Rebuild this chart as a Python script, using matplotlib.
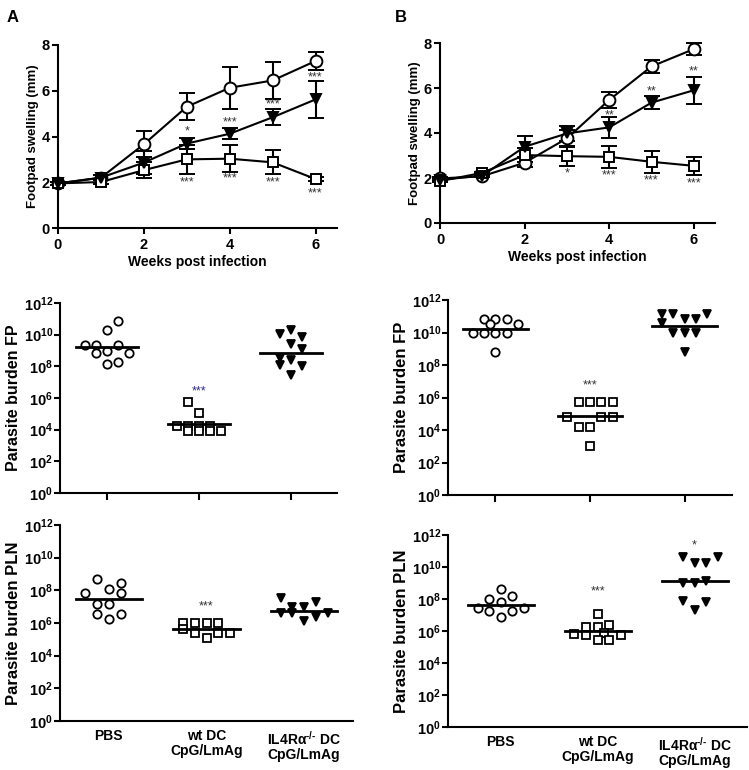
import numpy as np
import matplotlib
matplotlib.use("Agg")
import matplotlib.pyplot as plt
from matplotlib.ticker import FixedLocator, NullLocator

plt.rcParams['font.family'] = ['Liberation Sans', 'DejaVu Sans']
plt.rcParams['font.weight'] = 'bold'
plt.rcParams['axes.labelweight'] = 'bold'
plt.rcParams['mathtext.fontset'] = 'custom'
plt.rcParams['mathtext.rm'] = 'Liberation Sans:bold'
plt.rcParams['mathtext.it'] = 'Liberation Sans:italic:bold'
plt.rcParams['mathtext.bf'] = 'Liberation Sans:bold'
plt.rcParams['mathtext.default'] = 'bf'

# ---------------- data: footpad swelling ----------------
weeks = [0, 1, 2, 3, 4, 5, 6]

A_pbs_mean = [1.95, 2.20, 3.66, 5.30, 6.13, 6.45, 7.30]
A_pbs_err = [0.05, 0.10, 0.57, 0.60, 0.92, 0.80, 0.40]
A_il4_mean = [1.95, 2.20, 2.86, 3.69, 4.12, 4.84, 5.62]
A_il4_err = [0.05, 0.10, 0.50, 0.25, 0.25, 0.35, 0.80]
A_wt_mean = [1.95, 2.01, 2.53, 3.00, 3.03, 2.87, 2.14]
A_wt_err = [0.05, 0.08, 0.35, 0.65, 0.60, 0.53, 0.10]

B_pbs_mean = [1.98, 2.08, 2.68, 3.76, 5.47, 6.96, 7.73]
B_pbs_err = [0.05, 0.05, 0.20, 0.37, 0.37, 0.30, 0.26]
B_il4_mean = [1.92, 2.10, 3.39, 3.98, 4.25, 5.35, 5.90]
B_il4_err = [0.05, 0.05, 0.47, 0.35, 0.45, 0.30, 0.60]
B_wt_mean = [1.86, 2.23, 3.02, 2.97, 2.94, 2.72, 2.54]
B_wt_err = [0.05, 0.05, 0.30, 0.45, 0.50, 0.48, 0.40]

A_sig_week = [3, 3, 4, 4, 5, 5, 6, 6]
A_sig_y = [4.20, 1.97, 4.60, 2.15, 5.40, 2.00, 6.58, 1.53]
A_sig_text = ['*', '***', '***', '***', '***', '***', '***', '***']

B_sig_week = [3, 4, 4, 5, 5, 6, 6]
B_sig_y = [2.20, 4.80, 2.13, 5.84, 1.90, 6.74, 1.78]
B_sig_text = ['*', '**', '***', '**', '***', '**', '***']

# ---------------- data: parasite burden (log10) ----------------
groups = ['PBS', 'wt DC\nCpG/LmAg', 'IL4R\u03b1$^{\\text{-/-}}$ DC\nCpG/LmAg']

A_FP_pbs = [10.84, 10.31, 9.36, 9.36, 9.36, 8.83, 8.94, 8.83, 8.16, 8.30]
A_FP_wt = [5.77, 5.07, 4.23, 4.23, 4.23, 4.23, 3.92, 3.92, 3.92, 3.92]
A_FP_il4 = [10.04, 10.31, 9.85, 9.40, 9.08, 8.51, 8.41, 8.09, 7.99, 7.46]
A_FP_median = [9.25, 4.34, 8.87]

B_FP_pbs = [10.83, 10.83, 10.83, 10.50, 10.50, 9.95, 9.95, 9.95, 9.95, 8.78]
B_FP_wt = [5.74, 5.74, 5.74, 5.74, 4.82, 4.82, 4.82, 4.20, 4.20, 3.02]
B_FP_il4 = [11.14, 11.14, 11.14, 10.83, 10.83, 10.56, 9.95, 9.95, 9.95, 8.82]
B_FP_median = [10.19, 4.86, 10.42]

A_PLN_pbs = [8.67, 8.43, 7.82, 8.06, 7.82, 7.14, 7.14, 6.55, 6.55, 6.24]
A_PLN_wt = [6.02, 6.02, 6.02, 6.02, 5.61, 5.37, 5.37, 5.37, 5.06]
A_PLN_il4 = [7.51, 6.96, 6.96, 7.31, 6.63, 6.59, 6.39, 6.63, 6.10]
A_PLN_median = [7.47, 5.63, 6.76]

B_PLN_pbs = [8.61, 7.98, 8.19, 7.84, 7.42, 7.42, 7.28, 7.28, 6.90]
B_PLN_wt = [7.04, 6.27, 6.23, 6.375, 5.81, 5.75, 5.86, 5.75, 5.44, 5.44]
B_PLN_il4 = [10.61, 10.27, 10.27, 10.61, 8.98, 8.98, 9.125, 7.875, 7.31, 7.79]
B_PLN_median = [7.63, 6.00, 9.14]

# significance annotations for burden panels: (group index, log10 y, text)
A_FP_sig = [(1, 6.40, '***')]
B_FP_sig = [(1, 6.77, '***')]
A_PLN_sig = [(1, 7.04, '***')]
B_PLN_sig = [(1, 8.50, '***'), (2, 11.37, '*')]

# layout: horizontal slot of each point (scatter arrangement)
A_FP_slots = [[1, 0, -2, -1, 1, -1, 0, 2, 0, 1],
              [-1, 0, -2, -1, 0, 1, -1, 0, 1, 2],
              [-1, 0, 1, 0, 1, -1, 0, -1, 1, 0]]
B_FP_slots = [[-1, 0, 1, -0.5, 2, -2, -1, 0, 1, 0],
              [-1, 0, 1, 2, -2, 1, 2, -1, 0, 0],
              [-2, -1, 2, 0, 1, -2, -1, 0, 1, 0]]
A_PLN_slots = [[-1, 1, -2, 0, 1, -1, 0, -1, 1, 0],
               [-2, -1, 0, 1, -2, -1, 1, 2, 0],
               [-2, -1, 0, 1, -2, -1, 1, 2, 0]]
B_PLN_slots = [[0, -1, 1, 0, -2, 2, -1, 1, 0],
               [0, -1, 0, 1, -2, -1, 0.5, 2, 0, 1],
               [-1, 0, 1, 2, -1, 0, 1, -1, 0, 1]]

W, H = 749, 770
fig = plt.figure(figsize=(W / 100, H / 100), dpi=100)


def rect(x0, y0, x1, y1):
    return [x0 / W, 1 - y1 / H, (x1 - x0) / W, (y1 - y0) / H]


LW = 1.5
STAR_COLOR = '#333333'
STAR_SIZE = 9


def style_axes(ax):
    for s in ['top', 'right']:
        ax.spines[s].set_visible(False)
    for s in ['left', 'bottom']:
        ax.spines[s].set_linewidth(LW)
    ax.tick_params(width=LW, length=4)


def swelling(ax, pbs_m, pbs_e, il4_m, il4_e, wt_m, wt_e, sw, sy, st):
    style_axes(ax)
    kw = dict(color='black', lw=LW, elinewidth=LW, capsize=5.5, capthick=LW,
              markeredgecolor='black', markeredgewidth=1.4, clip_on=False, zorder=3)
    ax.errorbar(weeks, pbs_m, yerr=pbs_e, marker='o', markersize=8.5,
                markerfacecolor='white', **kw)
    ax.errorbar(weeks, wt_m, yerr=wt_e, marker='s', markersize=7.5,
                markerfacecolor='white', **kw)
    ax.errorbar(weeks, il4_m, yerr=il4_e, marker='v', markersize=7,
                markerfacecolor='black', **kw)
    for w, y, t in zip(sw, sy, st):
        ax.text(w, y, t, ha='center', va='center', fontsize=STAR_SIZE,
                fontweight='normal', color=STAR_COLOR, zorder=5)
    ax.set_xlim(0, 6.5)
    ax.set_ylim(0, 8)
    ax.set_xticks([0, 2, 4, 6])
    ax.set_xticklabels(['0', '2', '4', '6'], fontsize=10.5, fontweight='heavy')
    ax.set_yticks([0, 2, 4, 6, 8])
    ax.set_yticklabels(['0', '2', '4', '6', '8'], fontsize=10.5, fontweight='heavy')
    ax.tick_params(axis='y', pad=2)
    ax.set_xlabel('Weeks post infection', fontsize=10, fontweight='bold', labelpad=2)
    ax.set_ylabel('Footpad swelling (mm)', fontsize=9.5, fontweight='bold', labelpad=2)


def burden(ax, data, slots, medians, sig, ylabel, show_names, xlim, ylsize,
           star_colors=None):
    style_axes(ax)
    markers = ['o', 's', 'v']
    faces = ['white', 'white', 'black']
    sizes = [6, 5.6, 5.6]
    step = 0.12
    for gi, (vals, sl) in enumerate(zip(data, slots)):
        xs = [gi + s * step for s in sl]
        ys = [10.0 ** v for v in vals]
        ax.plot(xs, ys, linestyle='none', marker=markers[gi], markersize=sizes[gi],
                markerfacecolor=faces[gi], markeredgecolor='black',
                markeredgewidth=1.3, zorder=3)
        ax.plot([gi - 0.34, gi + 0.34], [10.0 ** medians[gi]] * 2,
                color='black', lw=2, zorder=4)
    for i, (g, y, t) in enumerate(sig):
        c = STAR_COLOR if star_colors is None else star_colors[i]
        ax.text(g, 10.0 ** y, t, ha='center', va='center', fontsize=STAR_SIZE,
                fontweight='normal', color=c, zorder=5)
    ax.set_yscale('log')
    ax.set_ylim(1, 1e12)
    ax.yaxis.set_major_locator(FixedLocator([10.0 ** k for k in range(0, 13, 2)]))
    ax.yaxis.set_minor_locator(NullLocator())
    ax.set_yticklabels([r'$\mathbf{10^{%d}}$' % k for k in range(0, 13, 2)],
                       fontsize=10.5)
    ax.set_xlim(*xlim)
    ax.set_xticks([0, 1, 2])
    if show_names:
        ax.set_xticklabels(groups, fontsize=10, fontweight='bold', linespacing=1.05)
        ax.tick_params(axis='x', length=0, pad=6)
    else:
        ax.set_xticklabels([])
        ax.tick_params(axis='x', length=5)
    ax.tick_params(axis='y', pad=1)
    ax.set_ylabel(ylabel, fontsize=ylsize, fontweight='bold', labelpad=2)


axA = fig.add_axes(rect(58, 45, 337, 228))
swelling(axA, A_pbs_mean, A_pbs_err, A_il4_mean, A_il4_err, A_wt_mean, A_wt_err,
         A_sig_week, A_sig_y, A_sig_text)
axB = fig.add_axes(rect(440, 43, 715, 223))
swelling(axB, B_pbs_mean, B_pbs_err, B_il4_mean, B_il4_err, B_wt_mean, B_wt_err,
         B_sig_week, B_sig_y, B_sig_text)

ax3 = fig.add_axes(rect(60, 303, 337, 493))
burden(ax3, [A_FP_pbs, A_FP_wt, A_FP_il4], A_FP_slots, A_FP_median, A_FP_sig,
       'Parasite burden FP', False, (-0.51, 2.5), 11.5, star_colors=['#2a2a8a'])
ax4 = fig.add_axes(rect(448, 300, 732, 495))
burden(ax4, [B_FP_pbs, B_FP_wt, B_FP_il4], B_FP_slots, B_FP_median, B_FP_sig,
       'Parasite burden FP', False, (-0.5, 2.5), 12)
ax5 = fig.add_axes(rect(60, 525, 353, 721))
burden(ax5, [A_PLN_pbs, A_PLN_wt, A_PLN_il4], A_PLN_slots, A_PLN_median, A_PLN_sig,
       'Parasite burden PLN', True, (-0.5, 2.5), 12)
ax6 = fig.add_axes(rect(448, 535, 747, 727))
burden(ax6, [B_PLN_pbs, B_PLN_wt, B_PLN_il4], B_PLN_slots, B_PLN_median, B_PLN_sig,
       'Parasite burden PLN', True, (-0.545, 2.54), 12)

fig.text(7 / W, 1 - 17 / H, 'A', fontsize=12, fontweight='bold', va='center', ha='left')
fig.text(395 / W, 1 - 17 / H, 'B', fontsize=12, fontweight='bold', va='center', ha='left')

fig.savefig('out.png', dpi=100)
